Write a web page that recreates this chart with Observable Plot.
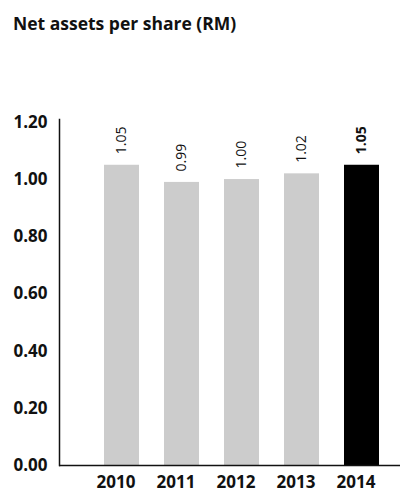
<!DOCTYPE html>
<html>
<head>
<meta charset="utf-8">
<script src="https://cdn.jsdelivr.net/npm/d3@7"></script>
<script src="https://cdn.jsdelivr.net/npm/@observablehq/plot@0.6"></script>
<style>
  html, body { margin: 0; padding: 0; background: #fff; }
  #wrap { width: 400px; height: 494px; position: relative; font-family: "Open Sans", sans-serif; }
  #title { position: absolute; left: 13px; top: 11px; font-size: 17.5px; line-height: 24px; font-weight: 700; color: #111; white-space: nowrap; }
  #chart { position: absolute; left: 0; top: 50px; }
</style>
</head>
<body>
<div id="wrap">
  <div id="title">Net assets per share (RM)</div>
  <div id="chart"></div>
</div>
<script>
// Net assets per share, RM, by financial year
const years = ["2010", "2011", "2012", "2013", "2014"];
const values = [1.05, 0.99, 1.00, 1.02, 1.05];
const yTicks = [0, 0.2, 0.4, 0.6, 0.8, 1.0, 1.2];
const highlightYear = "2014";

const data = years.map((year, i) => ({year, value: values[i], current: year === highlightYear}));

// shared options for the rotated value labels above each bar
const labelOptions = {
  x: "year", y: "value",
  text: d => d.value.toFixed(2),
  rotate: -90, textAnchor: "start", lineAnchor: "middle",
  dy: -11, fontSize: 14, fill: "#111"
};

const chart = Plot.plot({
  width: 400,
  height: 444,
  marginLeft: 59,
  marginRight: 0,
  marginTop: 69,
  marginBottom: 29,
  style: {fontFamily: "Open Sans, sans-serif", color: "#111", background: "transparent"},
  x: {domain: years, range: [102, 380], paddingInner: 0.424, paddingOuter: 0, label: null},
  y: {domain: [0, 1.21], label: null},
  marks: [
    Plot.barY(data, {x: "year", y: "value", fill: d => d.current ? "#000" : "#cccccc"}),
    Plot.text(data.filter(d => !d.current), {...labelOptions, fontWeight: 400}),
    Plot.text(data.filter(d => d.current), {...labelOptions, fontWeight: 700}),
    Plot.axisY(yTicks, {
      tickSize: 0, tickPadding: 12, tickFormat: d => d.toFixed(2),
      fontSize: 17, fontWeight: 700, label: null
    }),
    Plot.axisX({
      tickSize: 0, tickPadding: 10, dx: -6,
      fontSize: 17, fontWeight: 700, label: null
    }),
    Plot.frame({anchor: "left", stroke: "#111", strokeWidth: 1.5}),
    Plot.ruleY([0], {stroke: "#111", strokeWidth: 1.5})
  ]
});
document.getElementById("chart").appendChild(chart);
</script>
</body>
</html>
